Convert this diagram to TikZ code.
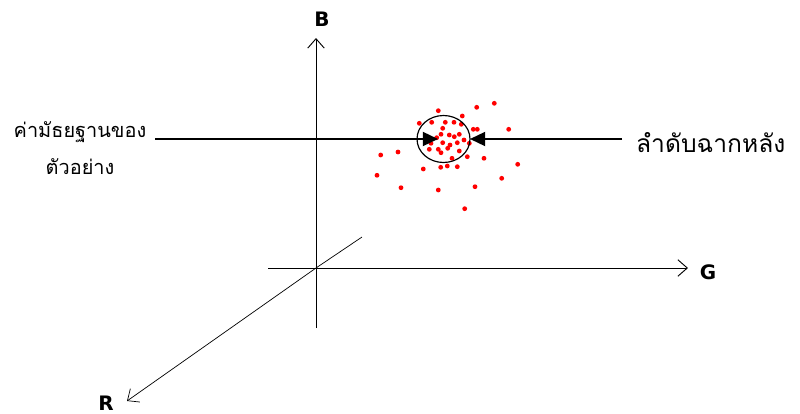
\documentclass[tikz,border=0pt]{standalone}
\usepackage{fontspec}
\newfontfamily\thaifont[Script=Thai]{Loma}
\newfontfamily\axisfont{DejaVu Sans}
\usepackage{tikz}
\usetikzlibrary{arrows.meta,positioning,shapes.geometric}

\begin{document}
\begin{tikzpicture}[x=0.03cm,y=-0.03cm,
  axis/.style={line width=0.8pt,-{Straight Barb[length=8pt,width=14pt]}},
  pointer/.style={line width=1.6pt,-{Triangle[length=13pt,width=12pt]}},
  axislabel/.style={font=\axisfont\bfseries\fontsize{17}{17}\selectfont},
  dot/.style={red}]
\useasboundingbox (0,0) rectangle (800,414);

% axes
\coordinate (O) at (316,268);
\draw[line width=0.8pt] (316,328) -- (O);
\draw[axis] (O) -- (316,38) coordinate (Btip);
\draw[line width=0.8pt] (268,268) -- (O);
\draw[axis] (O) -- (688,268) coordinate (Gtip);
\draw[line width=0.6pt] (362,237) -- (O);
\draw[axis,line width=0.6pt] (O) -- (127,401) coordinate (Rtip);
\node[axislabel] (B) at (322,19) {B};
\node[axislabel] (G) at (708,272) {G};
\node[axislabel] (R) at (106,403) {R};

% scattered pixels
\foreach \px/\py in {438.3/110.7,476.7/107.3,494.3/103.3,462.3/116,419.3/123.3,
    431.7/122.3,445.3/122.3,454/122.3,461.3/124.3,442.7/128.3,473.3/129.3,
    477.3/129.3,508.7/129.3,441/134.3,449.3/135,454.3/136.7,459.3/134.3,
    436.7/137.7,464/140,431/143.3,442.7/142.7,450/145,457.3/142.7,429.3/149.3,
    438.3/149.3,441/152.7,447.7/148.3,459.3/151,469.3/143.3,380.7/155,398/152,
    467.3/156.7,484/158.3,452/158.3,440.7/167.3,447.3/166,457.3/166.7,423.3/169,
    517.7/164.3,377/175.3,501.7/178.3,401/187.7,438.3/190,475/186.7,464.7/208.7}
  \fill[dot] (\px,\py) circle (2.4);

% median circle and pointers
\node[draw,line width=1pt,ellipse,minimum width=53*0.03cm,minimum height=47*0.03cm,
  inner sep=0pt] (cluster) at (443.5,139) {};
\node[font=\thaifont\fontsize{17}{32}\selectfont,align=center] (median)
  at (80,148) {ค่ามัธยฐานของ\\ตัวอย่าง};
\node[font=\thaifont\fontsize{21}{21}\selectfont,anchor=west] (background)
  at (632,143) {ลำดับฉากหลัง};
\coordinate (leftin) at (438,139);
\coordinate (rightin) at (470,139);
\draw[pointer] (155,139) -- (leftin);
\draw[pointer] (background.west |- rightin) ++(-10,0) -- (rightin);
\end{tikzpicture}
\end{document}
